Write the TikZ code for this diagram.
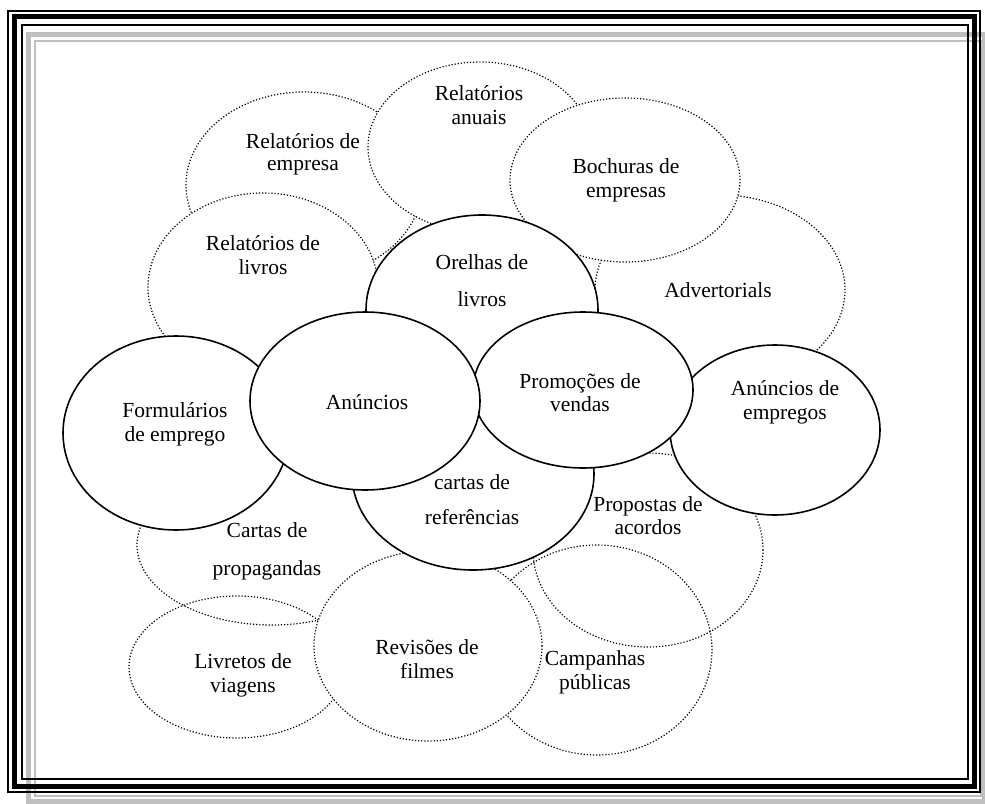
\documentclass[tikz,border=0pt]{standalone}
\usepackage{fontspec}
\setmainfont{Liberation Serif}
\usetikzlibrary{shapes.geometric}
\begin{document}
\begin{tikzpicture}[x=1pt,y=-1pt,
  ellbase/.style={ellipse, inner sep=0pt, outer sep=0pt},
  dotell/.style={ellbase, draw, fill=white, line width=1.2pt, dash pattern=on 1.2pt off 1.9pt},
  dotopen/.style={ellbase, draw, line width=1.2pt, dash pattern=on 1.2pt off 1.9pt},
  solell/.style={ellbase, draw, fill=white, line width=1.6pt},
  txt/.style={align=center, inner sep=0pt, font=\fontsize{21.5}{24}\selectfont},
  blk/.style={draw=black},
  gry/.style={draw=black!25}]
\useasboundingbox (0,0) rectangle (985,803);
% grey frame
\draw[gry, line width=5pt] (28.5,34.5) rectangle (984.5,801.5);
\draw[gry, line width=2pt] (35,41) rectangle (981,796);
% black frame
\draw[blk, line width=2pt] (8,11) rectangle (980,792);
\draw[blk, line width=5pt] (14,16.5) rectangle (974.5,786);
\draw[blk, line width=2pt] (21.5,24.5) rectangle (968,779);
% dotted ellipses
\node[dotell, minimum width=236pt, minimum height=186pt] (empresa) at (304,185) {};
\node[dotell, minimum width=224pt, minimum height=170pt] (anuais) at (480,147) {};
\node[dotell, minimum width=250pt, minimum height=190pt] (advert) at (720,290) {};
\node[dotell, minimum width=230pt, minimum height=164pt] (bochuras) at (625,180) {};
\node[dotell, minimum width=230pt, minimum height=188pt] (rlivros) at (263,287) {};
\node[dotell, minimum width=270pt, minimum height=160pt] (propag) at (272,545) {};
\node[dotopen, minimum width=216pt, minimum height=142pt] (livretos) at (237,667) {};
\node[dotell, minimum width=230pt, minimum height=210pt] (campanhas) at (597,650) {};
\node[dotopen, minimum width=230pt, minimum height=194pt] (propostas) at (648,550) {};
\node[dotell, minimum width=228pt, minimum height=190pt] (revisoes) at (428,646) {};
% solid ellipses
\node[solell, minimum width=232pt, minimum height=190pt] (orelhas) at (482,310) {};
\node[solell, minimum width=242pt, minimum height=192pt] (cartasref) at (473,474) {};
\node[solell, minimum width=210pt, minimum height=170pt] (empregos) at (775,430) {};
\node[solell, minimum width=220pt, minimum height=156pt] (promocoes) at (583,390) {};
\node[solell, minimum width=226pt, minimum height=194pt] (formularios) at (176,433) {};
\node[solell, minimum width=230pt, minimum height=178pt] (anuncios) at (365,401) {};
% texts
\node[txt] (t-empresa) at (303,154) {Relatórios de\\[-2pt]empresa};
\node[txt] (t-anuais) at (479,105) {Relatórios\\anuais};
\node[txt] (t-bochuras) at (626,180) {Bochuras de\\empresas};
\node[txt] (t-advert) at (718,290) {Advertorials};
\node[txt] (t-rlivros) at (263,255) {Relatórios de\\livros};
\node[txt] (t-orelhas) at (482,281) {Orelhas de\\[13pt]livros};
\node[txt] (t-formularios) at (175,424) {Formulários\\de emprego};
\node[txt] (t-anuncios) at (367,402) {Anúncios};
\node[txt] (t-promocoes) at (580,393) {Promoções de\\[-1pt]vendas};
\node[txt] (t-empregos) at (785,402) {Anúncios de\\empregos};
\node[txt] (t-cartasref) at (472,500) {cartas de\\[11pt]referências};
\node[txt] (t-propag) at (267,551) {Cartas de\\[14pt]propagandas};
\node[txt] (t-propostas) at (648,516) {Propostas de\\[-1pt]acordos};
\node[txt] (t-livretos) at (243,675) {Livretos de\\viagens};
\node[txt] (t-revisoes) at (427,659) {Revisões de\\filmes};
\node[txt] (t-campanhas) at (595,672) {Campanhas\\públicas};
\end{tikzpicture}
\end{document}
